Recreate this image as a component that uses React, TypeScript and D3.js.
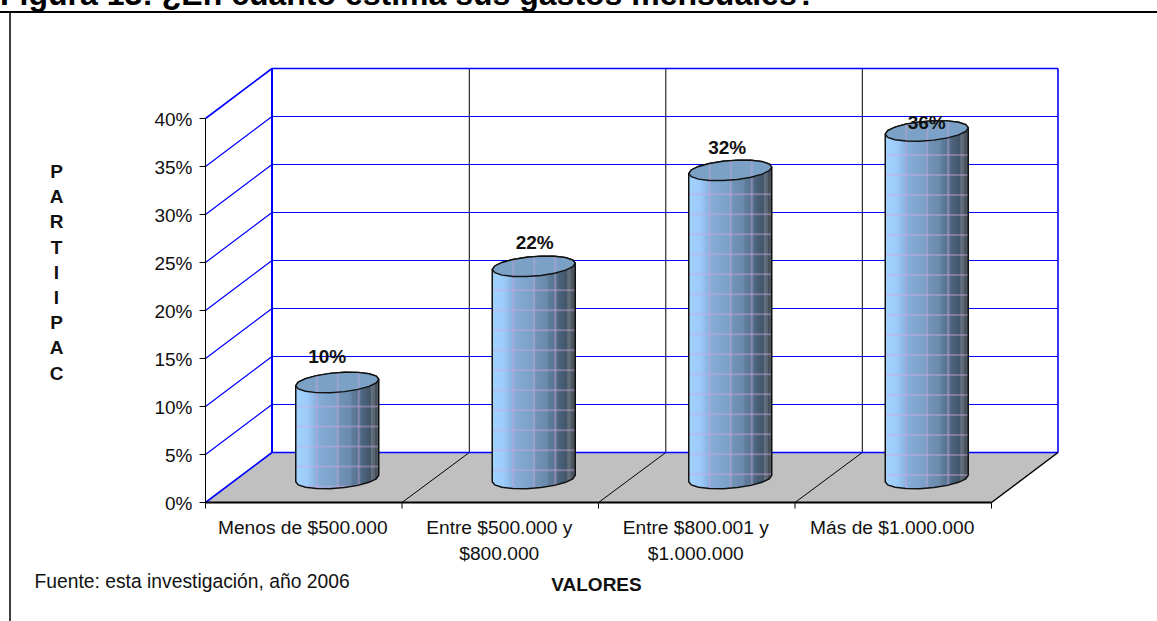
import React from "react";
import * as d3 from "d3";

const categories: string[][] = [
  ["Menos de $500.000"],
  ["Entre $500.000 y", "$800.000"],
  ["Entre $800.001 y", "$1.000.000"],
  ["Más de $1.000.000"],
];
const values = [10.0, 22.1, 32.1, 36.2];
const valueLabels = ["10%", "22%", "32%", "36%"];
const yTicks = [0, 5, 10, 15, 20, 25, 30, 35, 40];
const yTitle = ["P", "A", "R", "T", "I", "I", "P", "A", "C"];
const titleText = "Figura 13: ¿En cuánto estima sus gastos mensuales?";
const sourceText = "Fuente: esta investigación, año 2006";
const xTitle = "VALORES";

// Hand-placed label nudges as in the original (dx, dy relative to the top of each bar)
const labelDx = [-10, 1, -3, 0];
const labelDy = [-20, -17, -16, -2];

const W = 1157;
const H = 621;
const FONT = "'Liberation Sans', Arial, sans-serif";
const DX = 66.5;
const DY = -50;
const RX = 41.5;

const x = d3.scaleBand<number>().domain(d3.range(categories.length)).range([205.5, 991.5]);
const y = d3.scaleLinear().domain([0, 40]).range([502.5, 118.5]);
const seg = (x1: number, y1: number, x2: number, y2: number) => `M${x1},${y1}L${x2},${y2}`;

const gradStops: [number, string][] = [
  [0, "#a3d3ff"], [0.14, "#9ccbfa"], [0.2, "#90bdea"], [0.26, "#84add9"], [0.4, "#7ea5cd"],
  [0.5, "#7a9fc5"], [0.52, "#7294b7"], [0.66, "#6a8aab"], [0.68, "#5f7d9b"], [0.78, "#55708b"],
  [0.8, "#4c647d"], [0.9, "#425569"], [0.91, "#66727f"], [0.95, "#57636f"], [0.96, "#454f5a"], [1, "#4f5a65"],
];

const ellipse = d3.line<number>()
  .x((t) => RX * Math.cos(t))
  .y((t) => -3.2 * Math.cos(t) + 9.8 * Math.sin(t));

function Bar({ i }: { i: number }) {
  const cx = x(i)! + x.bandwidth() / 2 + 33.5;
  const base = 478.5;
  const top = base - (y(0) - y(values[i]));
  const angles = d3.range(0, 18).map((k) => (k / 18) * 2 * Math.PI);
  const topPath = ellipse(angles)! + "Z";
  const lower = d3.range(0, 10).map((k) => (k / 9) * Math.PI);
  const upper = d3.range(9, 19).map((k) => (k / 9) * Math.PI);
  const pt = (t: number, oy: number) =>
    `${RX * Math.cos(t)},${oy - 3.2 * Math.cos(t) + 9.8 * Math.sin(t)}`;
  const h = base - top;
  const sidePath =
    "M" + lower.map((t) => pt(t, h)).join("L") + "L" + upper.map((t) => pt(t, 0)).join("L") + "Z";
  const hLines = d3.range(24, h + 10, 20);
  const vLines = [-20.5, 0.5, 21.5];
  return (
    <g transform={`translate(${cx},${top})`}>
      <clipPath id={`side${i}`}><path d={sidePath} /></clipPath>
      <clipPath id={`cap${i}`}><path d={topPath} /></clipPath>
      <path d={sidePath} fill="url(#cyl)" />
      <g clipPath={`url(#side${i})`} stroke="#d0a8e0" strokeOpacity={0.42} strokeWidth={2}>
        {hLines.map((l) => <line key={l} x1={-RX} x2={RX} y1={l} y2={l} />)}
        {vLines.map((l) => <line key={l} x1={l} x2={l} y1={-12} y2={h + 14} />)}
      </g>
      <path d={sidePath} fill="none" stroke="#111" strokeWidth={1.5} />
      <path d={topPath} fill="#7ca1c6" />
      <g clipPath={`url(#cap${i})`} stroke="#c4a6d8" strokeOpacity={0.45} strokeWidth={2}>
        {vLines.map((l) => <line key={l} x1={l} x2={l} y1={-12} y2={12} />)}
      </g>
      <path d={topPath} fill="none" stroke="#111" strokeWidth={1.4} />
    </g>
  );
}

export default function App() {
  const cats = d3.range(categories.length);
  const bounds = [...cats.map((c) => x(c)!), x.range()[1]];
  const [x0, x1] = x.range();
  return (
    <svg width={W} height={H} style={{ position: "absolute", left: 0, top: 0, background: "#fff" }} fontFamily={FONT}>
      <defs>
        <linearGradient id="cyl" x1="0" x2="1" y1="0" y2="0">
          {gradStops.map(([o, c]) => <stop key={o} offset={o} stopColor={c} />)}
        </linearGradient>
      </defs>
      <text x={0} y={5} fontSize={32} fontWeight="bold" fill="#000">{titleText}</text>
      <line x1={0} x2={W} y1={12} y2={12} stroke="#000" strokeWidth={2} />
      <line x1={10} x2={10} y1={12} y2={H} stroke="#000" strokeWidth={1.5} />

      {/* floor */}
      <path d={`M${x0},${y(0)}L${x0 + DX},${y(0) + DY}L${x1 + DX},${y(0) + DY}L${x1},${y(0)}Z`} fill="#c0c0c0" />

      {/* category lines on back wall and floor */}
      {bounds.slice(1, -1).map((b) => (
        <path key={b} d={seg(b, y(0), b + DX + 0.8, y(0) + DY) + seg(b + DX + 0.8, y(0) + DY, b + DX + 0.8, y(40) + DY)}
          stroke="#000" strokeWidth={1} fill="none" />
      ))}

      {/* value grid */}
      {yTicks.map((t) => (
        <path key={t} d={seg(x0, y(t), x0 + DX, y(t) + DY) + seg(x0 + DX, y(t) + DY, x1 + DX, y(t) + DY)}
          stroke="#0000ff" strokeWidth={t === 0 || t === 40 ? 1.6 : 1.2} fill="none" />
      ))}
      <line x1={x0 + DX} x2={x0 + DX} y1={y(40) + DY} y2={y(0) + DY} stroke="#0000ff" strokeWidth={2} />
      <line x1={x1 + DX} x2={x1 + DX} y1={y(40) + DY} y2={y(0) + DY} stroke="#0000ff" strokeWidth={1.6} />

      {/* floor edges */}
      <line x1={x1} x2={x1 + DX} y1={y(0)} y2={y(0) + DY} stroke="#000" strokeWidth={1.5} />
      <line x1={x0} x2={x1} y1={y(0)} y2={y(0)} stroke="#000" strokeWidth={1.8} />

      {/* axes */}
      <line x1={x0} x2={x0} y1={y(40)} y2={y(0)} stroke="#000" strokeWidth={1} />
      {yTicks.map((t) => (
        <g key={t}>
          <line x1={x0 - 6} x2={x0} y1={y(t)} y2={y(t)} stroke="#000" strokeWidth={1} />
          <text x={x0 - 13} y={y(t) + 7} textAnchor="end" fontSize={19} fill="#111">{t}%</text>
        </g>
      ))}
      {bounds.map((b) => (
        <line key={b} x1={b} x2={b} y1={y(0)} y2={y(0) + 6} stroke="#000" strokeWidth={1} />
      ))}

      {cats.map((i) => <Bar key={i} i={i} />)}

      {cats.map((i) => {
        const cx = x(i)! + x.bandwidth() / 2 + 33.5;
        const top = 478.5 - (y(0) - y(values[i]));
        return (
          <text key={i} x={cx + labelDx[i]} y={top + labelDy[i]} textAnchor="middle" fontSize={19} fontWeight="bold" fill="#111">
            {valueLabels[i]}
          </text>
        );
      })}

      {categories.map((lines, i) =>
        lines.map((l, j) => (
          <text key={l} x={x(i)! + x.bandwidth() / 2 - 1} y={533.5 + j * 26.3} textAnchor="middle" fontSize={19.2} fill="#111">{l}</text>
        ))
      )}

      {yTitle.map((l, i) => (
        <text key={i} x={56.5} y={178 + i * 25.2} textAnchor="middle" fontSize={19} fontWeight="bold" fill="#111">{l}</text>
      ))}
      <text x={596.5} y={591} textAnchor="middle" fontSize={19} fontWeight="bold" fill="#111">{xTitle}</text>
      <text x={34.5} y={588} fontSize={19.3} fill="#111">{sourceText}</text>
    </svg>
  );
}
